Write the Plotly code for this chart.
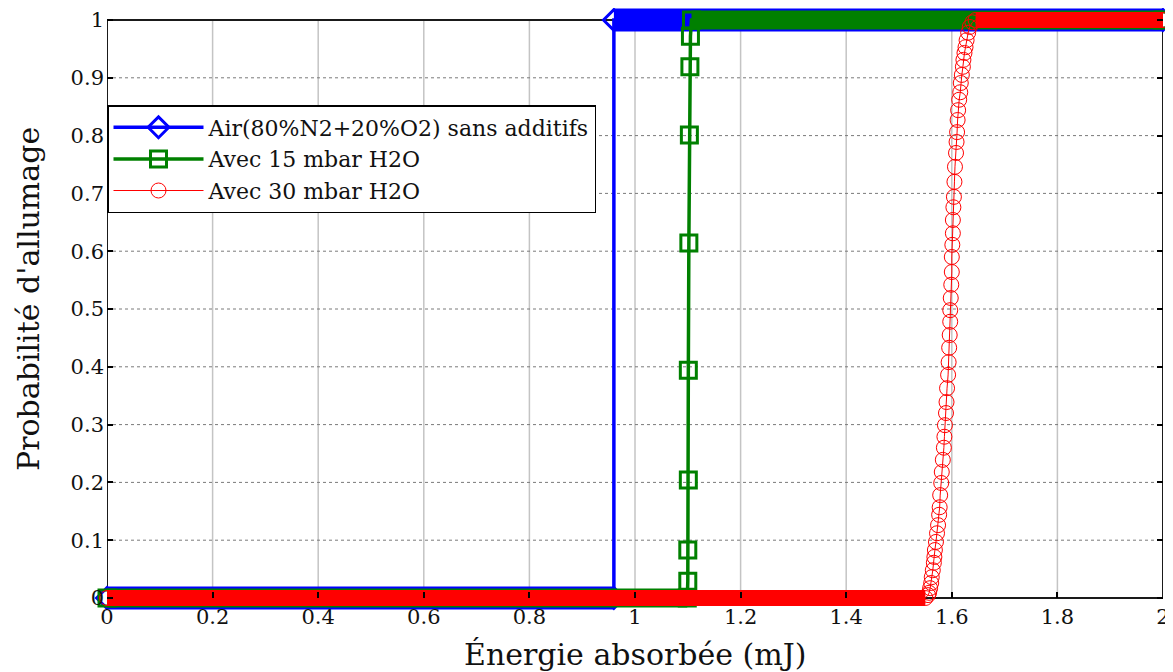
import plotly.graph_objects as go

# ---------------- data ----------------
air_energy = [0.0, 0.96, 0.96, 2.0]
air_prob = [0.0, 0.0, 1.0, 1.0]

h2o15_energy = [0.0, 1.099, 1.100, 1.100, 1.101, 1.101, 1.102, 1.103, 1.104, 1.105, 1.107, 2.0]
h2o15_prob = [0.0, 0.0, 0.029, 0.083, 0.204, 0.394, 0.614, 0.801, 0.919, 0.972, 1.0, 1.0]

h2o30_energy = [0.0, 1.550, 1.555, 1.557, 1.559, 1.561, 1.562, 1.564, 1.566, 1.567, 1.568,
                1.570, 1.572, 1.574, 1.576, 1.577, 1.578, 1.580, 1.581, 1.583, 1.585,
                1.586, 1.587, 1.589, 1.590, 1.591, 1.593, 1.594, 1.595, 1.596, 1.597,
                1.597, 1.598, 1.599, 1.600, 1.600, 1.601, 1.602, 1.602, 1.603, 1.604,
                1.605, 1.606, 1.608, 1.609, 1.610, 1.611, 1.612, 1.614, 1.616, 1.617,
                1.619, 1.621, 1.622, 1.624, 1.626, 1.628, 1.631, 1.634, 1.639, 1.645, 2.0]
h2o30_prob = [0.0, 0.0, 0.005, 0.009, 0.017, 0.026, 0.036, 0.048, 0.061, 0.071, 0.083,
              0.097, 0.112, 0.126, 0.144, 0.157, 0.178, 0.199, 0.218, 0.239, 0.260,
              0.279, 0.299, 0.320, 0.339, 0.363, 0.386, 0.408, 0.433, 0.455, 0.478,
              0.498, 0.519, 0.542, 0.564, 0.590, 0.611, 0.631, 0.654, 0.676, 0.694,
              0.720, 0.746, 0.770, 0.789, 0.806, 0.827, 0.844, 0.862, 0.875, 0.891,
              0.905, 0.919, 0.931, 0.943, 0.953, 0.965, 0.978, 0.988, 0.996, 1.0, 1.0]

series_names = ["Air(80%N2+20%O2) sans additifs", "Avec 15 mbar H2O", "Avec 30 mbar H2O"]

x_ticks = [0, 0.2, 0.4, 0.6, 0.8, 1.0, 1.2, 1.4, 1.6, 1.8, 2.0]
x_tick_labels = ["0", "0.2", "0.4", "0.6", "0.8", "1", "1.2", "1.4", "1.6", "1.8", "2"]
y_ticks = [0, 0.1, 0.2, 0.3, 0.4, 0.5, 0.6, 0.7, 0.8, 0.9, 1.0]
y_tick_labels = ["0", "0.1", "0.2", "0.3", "0.4", "0.5", "0.6", "0.7", "0.8", "0.9", "1"]

x_title = "Énergie absorbée (mJ)"
y_title = "Probabilité d'allumage"

# ---------------- styles ----------------
FONT = "DejaVu Serif"
PAGE_OFF = 8                     # default body margin of the html page
W, H = 1173 - PAGE_OFF, 672 - PAGE_OFF
ML, MR, MT, MB = 107 - PAGE_OFF, 10, 0, 59
Y0_PX, Y1_PX = 598 - PAGE_OFF, 20 - PAGE_OFF   # figure rows of p=0 and p=1
plot_h = H - MT - MB
plot_w = W - ML - MR
per_unit = (Y0_PX - Y1_PX)
y_lo = -(MT + plot_h - Y0_PX) / per_unit
y_hi = 1 + (Y1_PX - MT) / per_unit

styles = [
    dict(color="#0000ff", symbol="diamond-open", size=16, lw=3.5, mlw=3, band=23),
    dict(color="#008000", symbol="square-open", size=16, lw=3.5, mlw=3, band=19),
    dict(color="#ff0000", symbol="circle-open", size=15, lw=1, mlw=1, band=16),
]
datasets = [(air_energy, air_prob), (h2o15_energy, h2o15_prob), (h2o30_energy, h2o30_prob)]


def flat_extent(xs, ys, level):
    pts = [x for x, y in zip(xs, ys) if y == level]
    return [min(pts), max(pts)]


fig = go.Figure()
for (xs, ys), st, name in zip(datasets, styles, series_names):
    for level in (0.0, 1.0):
        ext = flat_extent(xs, ys, level)
        fig.add_trace(go.Scatter(
            x=ext, y=[level, level], mode="lines",
            line=dict(color=st["color"], width=st["band"]),
            showlegend=False, hoverinfo="skip", cliponaxis=False))
    fig.add_trace(go.Scatter(
        x=xs, y=ys, mode="lines+markers", name=name,
        line=dict(color=st["color"], width=st["lw"]),
        marker=dict(symbol=st["symbol"], size=st["size"], color=st["color"],
                    line=dict(color=st["color"], width=st["mlw"])),
        cliponaxis=False))

# grid and frame (drawn in data coordinates)
shapes = []
for xv in x_ticks[1:-1]:
    shapes.append(dict(type="line", xref="x", yref="y", x0=xv, x1=xv, y0=0, y1=1,
                       line=dict(color="#c4c4c4", width=1.5), layer="below"))
for yv in y_ticks[1:-1]:
    shapes.append(dict(type="line", xref="x", yref="y", x0=0, x1=2, y0=yv, y1=yv,
                       line=dict(color="#7a7a7a", width=1, dash="dot"), layer="below"))
shapes.append(dict(type="rect", xref="x", yref="y", x0=0, x1=2, y0=0, y1=1,
                   line=dict(color="#1a1a1a", width=2), layer="below"))

x_pos = (0 - y_lo) / (y_hi - y_lo)

fig.update_layout(
    width=W, height=H,
    margin=dict(l=ML, r=MR, t=MT, b=MB, autoexpand=False),
    paper_bgcolor="white", plot_bgcolor="white",
    font=dict(family=FONT, color="#111111"),
    shapes=shapes,
    xaxis=dict(range=[0, 2], tickvals=x_ticks, ticktext=x_tick_labels,
               anchor="free", position=x_pos, automargin=False,
               ticks="inside", ticklen=6, tickwidth=1.5, tickcolor="black",
               ticklabelstandoff=4,
               showgrid=False, zeroline=False, showline=False,
               tickfont=dict(family=FONT, size=21, color="#111111")),
    yaxis=dict(range=[y_lo, y_hi], tickvals=y_ticks, ticktext=y_tick_labels,
               automargin=False,
               ticks="inside", ticklen=6, tickwidth=1.5, tickcolor="black",
               mirror="ticks", ticklabelstandoff=2,
               showgrid=False, zeroline=False, showline=False,
               tickfont=dict(family=FONT, size=21, color="#111111")),
    legend=dict(x=0, xanchor="left", y=(H - MB - (105 - PAGE_OFF)) / plot_h, yanchor="top",
                bgcolor="white", bordercolor="black", borderwidth=1.5,
                font=dict(family=FONT, size=22, color="#111111"),
                itemwidth=90, tracegroupgap=0),
    annotations=[
        dict(text=x_title, xref="paper", yref="paper", x=0.5,
             y=-((654 - PAGE_OFF) - (H - MB)) / plot_h, xanchor="center", yanchor="middle",
             showarrow=False, font=dict(family=FONT, size=30, color="#111111")),
        dict(text=y_title, xref="paper", yref="paper",
             x=((28 - PAGE_OFF) - ML) / plot_w,
             y=((H - MB) - (299 - PAGE_OFF)) / plot_h, xanchor="center", yanchor="middle",
             textangle=-90, showarrow=False,
             font=dict(family=FONT, size=30, color="#111111")),
    ],
)

fig.write_html("out.html")
